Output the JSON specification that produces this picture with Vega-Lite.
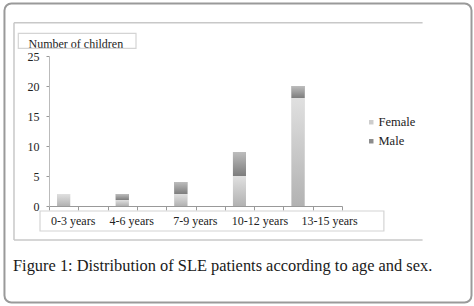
{
  "$schema": "https://vega.github.io/schema/vega-lite/v6.json",
  "width": 293,
  "height": 150,
  "autosize": {"type": "none"},
  "padding": {"left": 49, "top": 56, "right": 132, "bottom": 100},
  "background": "white",
  "config": {"view": {"stroke": null}, "font": "Liberation Serif"},
  "layer": [
    {
      "data": {"values": [{}]},
      "layer": [
        {
          "mark": {"type": "rect", "fill": "transparent", "stroke": "#9a9a9a", "strokeWidth": 2, "cornerRadius": 7, "clip": false},
          "encoding": {
            "x": {"datum": -1.52, "type": "quantitative", "scale": {"domain": [0, 10], "nice": false, "zero": false}, "axis": null},
            "x2": {"datum": 14.42},
            "y": {"datum": 33.75, "type": "quantitative", "scale": {"domain": [0, 25], "nice": false}, "axis": null},
            "y2": {"datum": -16.08}
          }
        },
        {
          "mark": {"type": "rule", "stroke": "#c8c8c8", "strokeWidth": 1.5, "clip": false},
          "encoding": {
            "x": {"datum": -1.195, "type": "quantitative", "scale": {"domain": [0, 10], "nice": false, "zero": false}, "axis": null},
            "x2": {"datum": 12.75},
            "y": {"datum": 30.55, "type": "quantitative", "scale": {"domain": [0, 25], "nice": false}, "axis": null}
          }
        },
        {
          "mark": {"type": "rule", "stroke": "#c8c8c8", "strokeWidth": 1.5, "clip": false},
          "encoding": {
            "x": {"datum": -1.195, "type": "quantitative", "scale": {"domain": [0, 10], "nice": false, "zero": false}, "axis": null},
            "x2": {"datum": 12.75},
            "y": {"datum": -5.67, "type": "quantitative", "scale": {"domain": [0, 25], "nice": false}, "axis": null}
          }
        },
        {
          "mark": {"type": "rule", "stroke": "#c8c8c8", "strokeWidth": 1.5, "clip": false},
          "encoding": {
            "x": {"datum": -1.195, "type": "quantitative", "scale": {"domain": [0, 10], "nice": false, "zero": false}, "axis": null},
            "y": {"datum": 30.55, "type": "quantitative", "scale": {"domain": [0, 25], "nice": false}, "axis": null},
            "y2": {"datum": -5.67}
          }
        },
        {
          "mark": {"type": "rect", "fill": "transparent", "stroke": "#d4d4d4", "strokeWidth": 1.2, "clip": false},
          "encoding": {
            "x": {"datum": -1.048, "type": "quantitative", "scale": {"domain": [0, 10], "nice": false, "zero": false}, "axis": null},
            "x2": {"datum": 2.969},
            "y": {"datum": 28.78, "type": "quantitative", "scale": {"domain": [0, 25], "nice": false}, "axis": null},
            "y2": {"datum": 26.28}
          }
        },
        {
          "mark": {"type": "rect", "fill": "transparent", "stroke": "#d4d4d4", "strokeWidth": 1.2, "clip": false},
          "encoding": {
            "x": {"datum": -0.307, "type": "quantitative", "scale": {"domain": [0, 10], "nice": false, "zero": false}, "axis": null},
            "x2": {"datum": 11.43},
            "y": {"datum": -0.83, "type": "quantitative", "scale": {"domain": [0, 25], "nice": false}, "axis": null},
            "y2": {"datum": -4.17}
          }
        },
        {
          "mark": {"type": "text", "text": "Figure 1: Distribution of SLE patients according to age and sex.", "align": "left", "baseline": "middle", "fontSize": 16.4, "font": "Liberation Serif", "color": "#1a1a1a", "clip": false},
          "encoding": {
            "x": {"datum": -1.229, "type": "quantitative", "scale": {"domain": [0, 10], "nice": false, "zero": false}, "axis": null},
            "y": {"datum": -10, "type": "quantitative", "scale": {"domain": [0, 25], "nice": false}, "axis": null}
          }
        }
      ]
    },
    {
      "data": {
        "values": [
          {"age": "0-3 years", "sex": "Female", "count": 2},
          {"age": "0-3 years", "sex": "Male", "count": 0},
          {"age": "4-6 years", "sex": "Female", "count": 1},
          {"age": "4-6 years", "sex": "Male", "count": 1},
          {"age": "7-9 years", "sex": "Female", "count": 2},
          {"age": "7-9 years", "sex": "Male", "count": 2},
          {"age": "10-12 years", "sex": "Female", "count": 5},
          {"age": "10-12 years", "sex": "Male", "count": 4},
          {"age": "13-15 years", "sex": "Female", "count": 18},
          {"age": "13-15 years", "sex": "Male", "count": 2}
        ]
      },
      "transform": [
        {"stack": "count", "groupby": ["age"], "sort": [{"field": "sex", "order": "ascending"}], "as": ["y0", "y1"]}
      ],
      "encoding": {
        "x": {
          "field": "age",
          "type": "nominal",
          "scale": {
            "domain": ["0-3 years", "_a", "4-6 years", "_b", "7-9 years", "_c", "10-12 years", "_d", "13-15 years", "_e"],
            "paddingInner": 0,
            "paddingOuter": 0
          },
          "axis": {
            "title": null,
            "labelAngle": 0,
            "labelExpr": "indexof(datum.label, 'years') >= 0 ? datum.label : ''",
            "labelOffset": {"expr": "datum.value == '0-3 years' ? 9 : datum.value == '4-6 years' ? 9 : datum.value == '7-9 years' ? 14 : datum.value == '10-12 years' ? 20 : 31"},
            "labelFont": "Liberation Serif",
            "labelFontSize": 12,
            "labelColor": "#222222",
            "labelPadding": 5,
            "tickBand": "extent",
            "tickSize": 4,
            "tickColor": "#999999",
            "domainColor": "#999999",
            "grid": false
          }
        },
        "y": {
          "field": "y0",
          "type": "quantitative",
          "scale": {"domain": [0, 25], "nice": false},
          "axis": {
            "values": [0, 5, 10, 15, 20, 25],
            "title": "Number of children",
            "titleAngle": 0,
            "titleX": -21,
            "titleY": -13,
            "titleAlign": "left",
            "titleBaseline": "middle",
            "titleFont": "Liberation Serif",
            "titleFontSize": 12,
            "titleFontWeight": "normal",
            "titleColor": "#222222",
            "labelFont": "Liberation Serif",
            "labelFontSize": 12,
            "labelColor": "#222222",
            "labelPadding": 7,
            "tickSize": 3,
            "tickColor": "#999999",
            "domainColor": "#bbbbbb",
            "gridColor": "#8f8f8f",
            "gridWidth": 1
          }
        },
        "y2": {"field": "y1"}
      },
      "layer": [
        {
          "mark": {"type": "bar", "size": 13},
          "encoding": {
            "color": {
              "field": "sex",
              "type": "nominal",
              "scale": {"domain": ["Female", "Male"], "range": ["#cdcdcd", "#8c8c8c"]},
              "legend": {
                "orient": "none",
                "legendX": 316,
                "legendY": 60,
                "title": null,
                "symbolType": "square",
                "symbolSize": 20,
                "symbolStrokeWidth": 0,
                "labelFont": "Liberation Serif",
                "labelFontSize": 12.5,
                "labelColor": "#222222",
                "labelOffset": 1,
                "rowPadding": 6,
                "padding": 0
              }
            }
          }
        },
        {
          "transform": [{"filter": "datum.sex == 'Female'"}],
          "mark": {
            "type": "bar",
            "size": 13,
            "fill": {"gradient": "linear", "x1": 0, "y1": 1, "x2": 0, "y2": 0, "stops": [{"offset": 0, "color": "#b2b2b2"}, {"offset": 1, "color": "#e0e0e0"}]}
          },
          "encoding": {}
        },
        {
          "transform": [{"filter": "datum.sex == 'Male'"}],
          "mark": {
            "type": "bar",
            "size": 13,
            "fill": {"gradient": "linear", "x1": 0, "y1": 1, "x2": 0, "y2": 0, "stops": [{"offset": 0, "color": "#7d7d7d"}, {"offset": 1, "color": "#bdbdbd"}]}
          },
          "encoding": {}
        }
      ]
    }
  ],
  "resolve": {"scale": {"x": "independent", "y": "independent"}}
}
